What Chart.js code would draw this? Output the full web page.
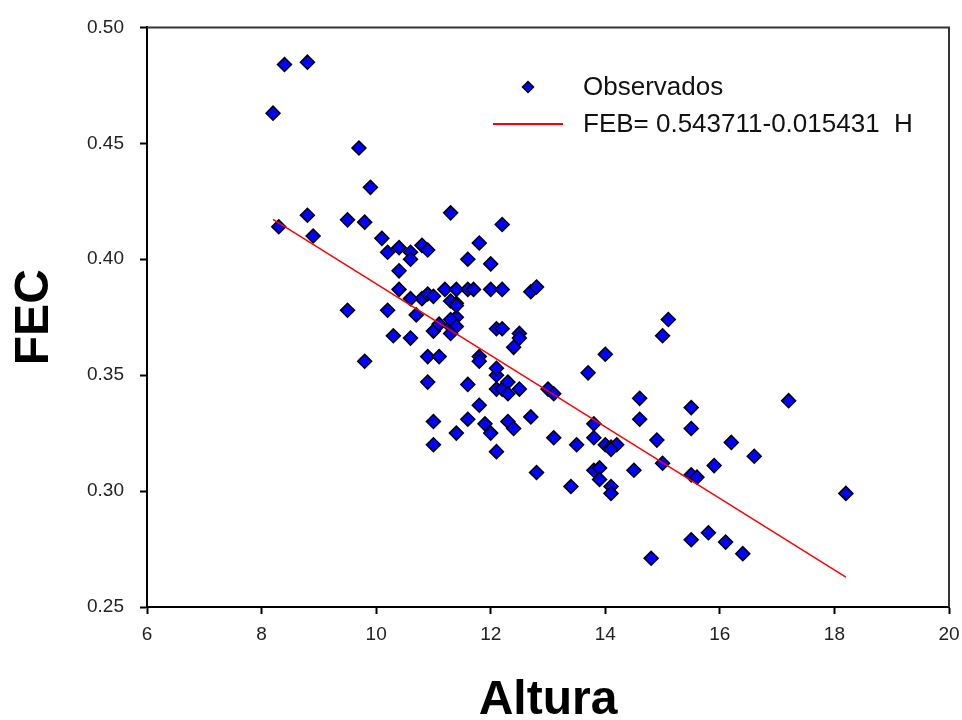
<!DOCTYPE html>
<html>
<head>
<meta charset="utf-8">
<script src="https://cdn.jsdelivr.net/npm/chart.js@4.4.1/dist/chart.umd.min.js"></script>
<style>
  html, body { margin: 0; padding: 0; background: #fff; }
  #wrap { width: 962px; height: 720px; }
</style>
</head>
<body>
<div id="wrap"><canvas id="fec-chart" width="962" height="720"></canvas></div>
<script>
// observed tree height (Altura) and FEC values
var alturaObs = [
  8.2, 8.4, 8.8, 8.3, 8.8, 8.9, 9.7, 9.9, 9.5, 9.8, 9.5, 9.8,
  10.1, 10.2, 10.2, 10.3, 10.4, 10.4, 10.4, 10.6, 10.6, 10.6, 10.7, 10.8,
  10.9, 10.8, 10.9, 11.0, 10.9, 10.9, 11.0, 11.0, 11.0, 11.1, 11.1, 11.2,
  11.3, 11.3, 11.3, 11.4, 11.4, 11.4, 11.4, 11.6, 11.6, 11.6, 11.6, 11.8,
  11.8, 11.8, 11.8, 11.9, 12.0, 12.0, 12.0, 12.1, 12.1, 12.1, 12.1, 12.1,
  12.2, 12.2, 12.2, 12.2, 12.3, 12.3, 12.3, 12.4, 12.4, 12.5, 12.5, 12.7,
  12.8, 12.7, 12.8, 13.0, 13.1, 13.1, 13.4, 13.5, 13.7, 13.8, 13.8, 13.8,
  13.9, 13.9, 14.0, 14.0, 14.1, 14.1, 14.1, 14.2, 14.5, 14.6, 14.6, 14.8,
  14.9, 15.0, 15.0, 15.1, 15.5, 15.5, 15.5, 15.5, 15.6, 15.8, 15.9, 16.1,
  16.2, 16.4, 16.6, 17.2, 18.2,
  10.6, 11.4, 11.3, 11.4, 11.3, 12.5, 14.1, 11.7
];
var fecObs = [
  0.463, 0.484, 0.485, 0.414, 0.419, 0.410, 0.448, 0.431, 0.417, 0.416, 0.378, 0.356,
  0.409, 0.403, 0.378, 0.367, 0.395, 0.405, 0.387, 0.403, 0.400, 0.366, 0.376, 0.406,
  0.404, 0.383, 0.385, 0.384, 0.358, 0.347, 0.330, 0.320, 0.369, 0.372, 0.358, 0.387,
  0.382, 0.420, 0.371, 0.387, 0.381, 0.375, 0.325, 0.387, 0.346, 0.331, 0.400, 0.407,
  0.358, 0.337, 0.356, 0.329, 0.398, 0.387, 0.325, 0.350, 0.353, 0.317, 0.370, 0.344,
  0.415, 0.387, 0.370, 0.344, 0.330, 0.347, 0.342, 0.327, 0.362, 0.368, 0.344, 0.386,
  0.388, 0.332, 0.308, 0.344, 0.342, 0.323, 0.302, 0.320, 0.351, 0.329, 0.323, 0.309,
  0.310, 0.305, 0.359, 0.320, 0.319, 0.302, 0.299, 0.320, 0.309, 0.340, 0.331, 0.271,
  0.322, 0.312, 0.367, 0.374, 0.336, 0.327, 0.279, 0.307, 0.306, 0.282, 0.311, 0.278,
  0.321, 0.273, 0.315, 0.339, 0.299,
  0.383, 0.380, 0.374, 0.371, 0.368, 0.366, 0.318, 0.387
];

// fitted line FEB = a + b*H, drawn over the observed height range
var intercept = 0.543711;
var slope = -0.015431;
var fitRange = [8.2, 18.2];

var xTicks = [6, 8, 10, 12, 14, 16, 18, 20];
var yTicks = [0.25, 0.30, 0.35, 0.40, 0.45, 0.50];

var obsPoints = alturaObs.map(function (h, i) { return { x: h, y: fecObs[i] }; });
var fitPoints = fitRange.map(function (h) { return { x: h, y: intercept + slope * h }; });

// box on top and right side of the plot + hand placed legend
var framePlugin = {
  id: 'frame',
  afterDraw: function (chart) {
    var ctx = chart.ctx;
    var a = chart.chartArea;
    ctx.save();
    ctx.strokeStyle = '#333';
    ctx.lineWidth = 2;
    ctx.beginPath();
    ctx.moveTo(a.left, a.top);
    ctx.lineTo(a.right, a.top);
    ctx.lineTo(a.right, a.bottom);
    ctx.stroke();

    var ds = chart.data.datasets;
    ctx.font = '26px "Liberation Sans", Arial, sans-serif';
    ctx.textBaseline = 'middle';
    ctx.textAlign = 'left';

    // marker row
    ctx.fillStyle = ds[0].backgroundColor;
    ctx.strokeStyle = ds[0].borderColor;
    ctx.lineWidth = 1.5;
    Chart.helpers.drawPoint(ctx, { pointStyle: 'rectRot', radius: 5.5, borderWidth: 1.5 }, 528, 87);
    ctx.fillStyle = '#111';
    ctx.fillText(ds[0].label, 583, 88);

    // line row
    ctx.strokeStyle = ds[1].borderColor;
    ctx.lineWidth = 2;
    ctx.beginPath();
    ctx.moveTo(493, 124);
    ctx.lineTo(563, 124);
    ctx.stroke();
    ctx.fillText(ds[1].label, 583, 125);
    ctx.restore();
  }
};

var tickFont = { family: '"Liberation Sans", Arial, sans-serif', size: 19 };
var titleFont = { family: '"Liberation Sans", Arial, sans-serif', size: 48, weight: 'bold', lineHeight: 0.8 };

var chartFec = new Chart(document.getElementById('fec-chart'), {
  type: 'scatter',
  data: {
    datasets: [
      {
        label: 'Observados',
        data: obsPoints,
        pointStyle: 'rectRot',
        pointRadius: 7,
        pointHoverRadius: 7,
        backgroundColor: '#0000ff',
        borderColor: '#000',
        borderWidth: 1.5,
        order: 2
      },
      {
        label: 'FEB= 0.543711-0.015431  H',
        type: 'line',
        data: fitPoints,
        borderColor: '#ff0000',
        borderWidth: 1.5,
        pointRadius: 0,
        fill: false,
        order: 1
      }
    ]
  },
  options: {
    responsive: false,
    animation: false,
    layout: { padding: { top: 25, right: 13, left: 0, bottom: 0 } },
    plugins: {
      legend: { display: false },
      tooltip: { enabled: false }
    },
    scales: {
      x: {
        type: 'linear',
        min: 6,
        max: 20,
        afterBuildTicks: function (scale) { scale.ticks = xTicks.map(function (v) { return { value: v }; }); },
        afterFit: function (scale) {
          scale.height = 113;
          scale.paddingRight = 0;
          scale.paddingLeft = 0;
        },
        border: { color: '#000', width: 2 },
        grid: { drawOnChartArea: false, tickLength: 7, tickColor: '#000', tickWidth: 2 },
        ticks: { font: tickFont, color: '#222', padding: 9, maxRotation: 0 },
        title: { display: true, text: 'Altura', font: titleFont, color: '#000', padding: 0 }
      },
      y: {
        min: 0.25,
        max: 0.5,
        afterBuildTicks: function (scale) { scale.ticks = yTicks.map(function (v) { return { value: v }; }); },
        afterFit: function (scale) { scale.width = 147; },
        border: { color: '#000', width: 2 },
        grid: { drawOnChartArea: false, tickLength: 7, tickColor: '#000', tickWidth: 2 },
        ticks: {
          font: tickFont,
          color: '#222',
          padding: 16,
          callback: function (v) { return Number(v).toFixed(2); }
        },
        title: { display: true, text: 'FEC', font: titleFont, color: '#000', padding: { top: 16, bottom: 0 } }
      }
    }
  },
  plugins: [framePlugin]
});
</script>
</body>
</html>
